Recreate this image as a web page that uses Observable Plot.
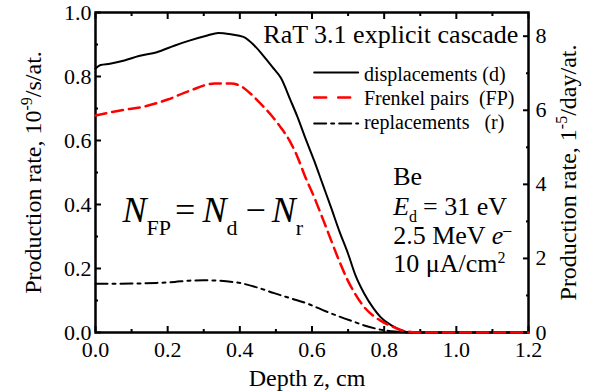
<!DOCTYPE html>
<html><head><meta charset="utf-8">
<script src="https://cdn.jsdelivr.net/npm/d3@7"></script>
<script src="https://cdn.jsdelivr.net/npm/@observablehq/plot@0.6"></script>
<style>
body{margin:0;background:#fff}
#chart{width:594px;height:392px}
#chart svg, #chart svg text, #chart svg tspan{font-family:"Liberation Serif","Times New Roman",serif !important}
</style>
</head><body><div id="chart"></div>
<script>
// ---- data ----
const depthD = [0, 0.014, 0.04, 0.08, 0.12, 0.17, 0.22, 0.26, 0.31, 0.34, 0.375, 0.41, 0.44, 0.467, 0.49, 0.514, 0.54, 0.56, 0.58, 0.606, 0.63, 0.653, 0.676, 0.70, 0.72, 0.745, 0.77, 0.79, 0.82, 0.85, 0.875, 0.9, 1.0, 1.1, 1.2];
const displacements = [0.825, 0.836, 0.84, 0.85, 0.864, 0.876, 0.897, 0.912, 0.928, 0.936, 0.932, 0.924, 0.897, 0.862, 0.83, 0.795, 0.727, 0.673, 0.612, 0.537, 0.462, 0.39, 0.316, 0.246, 0.18, 0.121, 0.076, 0.048, 0.022, 0.006, 0.0, 0, 0, 0, 0];

const depthFP = [0, 0.05, 0.08, 0.13, 0.2, 0.26, 0.33, 0.375, 0.41, 0.43, 0.467, 0.49, 0.514, 0.54, 0.56, 0.58, 0.606, 0.63, 0.653, 0.676, 0.699, 0.72, 0.745, 0.77, 0.79, 0.815, 0.838, 0.86, 0.88, 0.9, 1.0, 1.1, 1.2];
const frenkelPairs = [0.678, 0.69, 0.696, 0.705, 0.728, 0.755, 0.778, 0.778, 0.765, 0.746, 0.704, 0.675, 0.64, 0.595, 0.548, 0.49, 0.423, 0.355, 0.288, 0.222, 0.163, 0.12, 0.079, 0.052, 0.037, 0.022, 0.011, 0.004, 0.001, 0, 0, 0, 0];

const depthR = [0, 0.1, 0.17, 0.22, 0.26, 0.3, 0.34, 0.38, 0.403, 0.45, 0.495, 0.54, 0.588, 0.63, 0.68, 0.72, 0.745, 0.79, 0.83, 0.87];
const replacements = [0.152, 0.153, 0.155, 0.158, 0.162, 0.163, 0.162, 0.158, 0.154, 0.14, 0.123, 0.107, 0.09, 0.07, 0.048, 0.032, 0.022, 0.009, 0.003, 0];

const xTicks = [0, 0.2, 0.4, 0.6, 0.8, 1.0, 1.2];
const xMinor = [0.1, 0.3, 0.5, 0.7, 0.9, 1.1];
const yTicks = [0, 0.2, 0.4, 0.6, 0.8, 1.0];
const yMinor = [0.1, 0.3, 0.5, 0.7, 0.9];
const rightTicks = [0, 2, 4, 6, 8];
const rightMinor = [1, 3, 5, 7];
const RIGHT_FACTOR = 8.64; // 1e-9/s -> 1e-5/day

const seriesNames = ["displacements (d)", "Frenkel pairs\u00a0\u00a0(FP)", "replacements\u00a0\u00a0\u00a0(r)"];
const seriesColors = ["#000000", "#ff0000", "#000000"];
const seriesDash = [null, "11,6", "12,5,3,5"];
const legendDash = [null, "12,12", "12,5,3,5"];
const legendLineY = [0.8125, 0.734, 0.653];
const legendTextY = [0.7875, 0.7125, 0.6375];
const legendX = [0.606, 0.728];
const legendXRed = [0.606, 0.706];

const titleText = "RaT 3.1 explicit cascade";
const infoLines = ["Be", "Ed = 31 eV", "2.5 MeV e-", "10 uA/cm2"];
const infoY = [0.462, 0.366, 0.278, 0.19];
const formulaText = "NFP = Nd - Nr";

const FONT = "Liberation Serif, Times New Roman, serif";

const rows = (xs, ys) => xs.map((x, i) => ({x, y: ys[i]}));
const curves = [rows(depthD, displacements), rows(depthFP, frenkelPairs), rows(depthR, replacements)];

const legendRows = seriesNames.map((name, i) => ({name, i}));

const plot = Plot.plot({
  width: 594, height: 392,
  marginLeft: 95, marginRight: 66, marginTop: 12, marginBottom: 60,
  style: {fontFamily: FONT, fontSize: "22px", color: "black", background: "white"},
  x: {domain: [0, 1.2], label: null},
  y: {domain: [0, 1], label: null},
  marks: [
    // axes (ticks inward)
    Plot.axisX(xTicks, {anchor: "bottom", tickSize: -6, tickPadding: 15, strokeWidth: 2, tickFormat: d => d.toFixed(1), label: null, fontSize: 22}),
    Plot.axisX(xMinor, {anchor: "bottom", tickSize: -3, strokeWidth: 2, tickFormat: () => "", label: null}),
    Plot.axisX(xTicks, {anchor: "top", tickSize: -6, strokeWidth: 2, tickFormat: () => "", label: null}),
    Plot.axisX(xMinor, {anchor: "top", tickSize: -3, strokeWidth: 2, tickFormat: () => "", label: null}),
    Plot.axisY(yTicks, {anchor: "left", tickSize: -6, tickPadding: 10, strokeWidth: 2, tickFormat: d => d.toFixed(1), label: null, fontSize: 22}),
    Plot.axisY(yMinor, {anchor: "left", tickSize: -3, strokeWidth: 2, tickFormat: () => "", label: null}),
    Plot.axisY(rightTicks.map(v => v / RIGHT_FACTOR), {anchor: "right", tickSize: -6, tickPadding: 13, strokeWidth: 2, tickFormat: d => String(Math.round(d * RIGHT_FACTOR)), label: null, fontSize: 22}),
    Plot.axisY(rightMinor.map(v => v / RIGHT_FACTOR), {anchor: "right", tickSize: -3, strokeWidth: 2, tickFormat: () => "", label: null}),
    Plot.frame({stroke: "black", strokeWidth: 2.5}),
    // axis titles
    Plot.text(["YLEFT"], {text: d => d, frameAnchor: "left", textAnchor: "middle", dx: -62, rotate: -90, fontSize: 24}),
    Plot.text(["YRIGHT"], {text: d => d, frameAnchor: "right", textAnchor: "middle", dx: 40, rotate: -90, fontSize: 24}),
    Plot.text(["Depth z, cm"], {text: d => d, frameAnchor: "bottom", textAnchor: "middle", dx: -5, dy: 53, lineAnchor: "bottom", fontSize: 24}),
    // curves
    ...curves.map((c, i) => Plot.line(c, {x: "x", y: "y", stroke: seriesColors[i], strokeWidth: i === 1 ? 2.5 : 2, strokeDasharray: seriesDash[i], curve: "monotone-x"})),
    // legend
    ...legendRows.map(({i}) => Plot.line(
      (i === 1 ? legendXRed : legendX).map(x => ({x, y: legendLineY[i]})),
      {x: "x", y: "y", stroke: seriesColors[i], strokeWidth: i === 1 ? 2.5 : 2, strokeDasharray: legendDash[i]})),
    Plot.text(legendRows, {x: () => 0.744, y: d => legendTextY[d.i], text: "name", textAnchor: "start", lineAnchor: "bottom", fontSize: 20}),
    // annotations
    Plot.text([titleText], {x: () => 1.172, y: () => 0.906, text: d => d, textAnchor: "end", lineAnchor: "bottom", fontSize: 26}),
    Plot.text(infoLines, {x: () => 0.825, y: (d, i) => infoY[i], text: d => d, textAnchor: "start", lineAnchor: "bottom", fontSize: 26}),
    Plot.text([formulaText], {x: () => 0.075, y: () => 0.344, text: d => d, textAnchor: "start", lineAnchor: "bottom", fontSize: 36})
  ]
});

// rich text (italics, sub/superscripts)
const rich = {
  "YLEFT": 'Production rate, 10<tspan font-size="16" dy="-9">-9</tspan><tspan dy="9">/s/at.</tspan>',
  "YRIGHT": 'Production rate, 1<tspan font-size="16" dy="-9">-5</tspan><tspan dy="9">/day/at.</tspan>',
  "Ed = 31 eV": '<tspan font-style="italic">E</tspan><tspan font-size="16" dy="7">d</tspan><tspan dy="-7" dx="6">= 31 eV</tspan>',
  "2.5 MeV e-": '2.5 MeV <tspan font-style="italic">e</tspan><tspan font-size="16" dy="-9">\u2013</tspan>',
  "10 uA/cm2": '10 \u03bcA/cm<tspan font-size="16" dy="-9">2</tspan>',
  "NFP = Nd - Nr": '<tspan font-style="italic">N</tspan><tspan font-size="22" dy="13">FP</tspan><tspan dy="-13" dx="4">=</tspan><tspan font-style="italic" dx="7">N</tspan><tspan font-size="22" dy="13">d</tspan><tspan dy="-13" dx="8">\u2212</tspan><tspan font-style="italic" dx="6">N</tspan><tspan font-size="22" dy="13">r</tspan>'
};
plot.querySelectorAll("text").forEach(t => {
  const k = t.textContent;
  if (rich[k] !== undefined) t.innerHTML = rich[k];
});
document.getElementById("chart").appendChild(plot);
</script>
</body></html>
